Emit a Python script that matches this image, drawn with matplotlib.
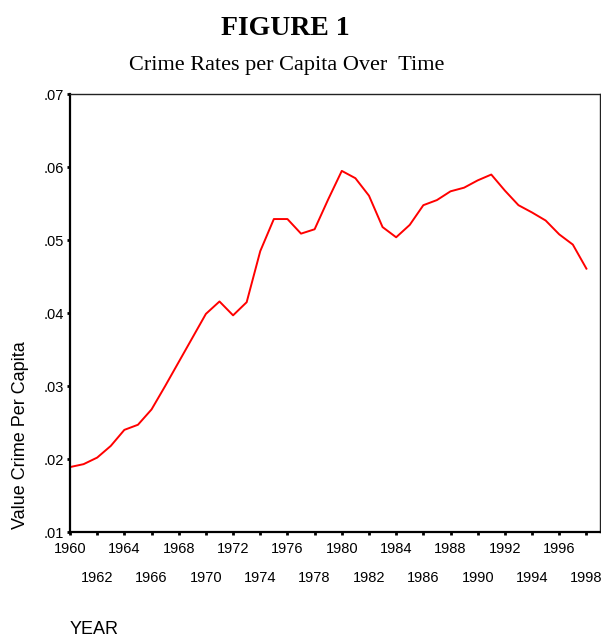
import numpy as np
from matplotlib import pyplot as plt
from matplotlib.ticker import FixedLocator, FuncFormatter

years = list(range(1960, 1999))
crime = [0.0189, 0.0193, 0.0202, 0.0218, 0.0240, 0.0247, 0.0268, 0.0300, 0.0333, 0.0366,
         0.0399, 0.0416, 0.0397, 0.0415, 0.0485, 0.0529, 0.0529, 0.0509, 0.0515, 0.0556,
         0.0595, 0.0585, 0.0561, 0.0518, 0.0504, 0.0521, 0.0548, 0.0555, 0.0567, 0.0572,
         0.0582, 0.0590, 0.0568, 0.0548, 0.0538, 0.0527, 0.0508, 0.0494, 0.0461]

yticks = [0.01, 0.02, 0.03, 0.04, 0.05, 0.06, 0.07]
row1_years = list(range(1960, 1999, 4))
row2_years = list(range(1962, 1999, 4))

plt.rcParams['font.family'] = ['Liberation Sans', 'DejaVu Sans']

fig = plt.figure(figsize=(6.01, 6.38), dpi=100)
ax = fig.add_axes([70/601, 1 - 532/638, 530/601, (532 - 94.3)/638])

ax.plot(years, crime, color='#ff0000', linewidth=1.4)

ax.set_xlim(1960, 1999)
ax.set_ylim(0.01, 0.07)

ax.set_yticks(yticks)
ax.yaxis.set_major_formatter(FuncFormatter(lambda v, p: ('%.2f' % v)[1:]))
ax.tick_params(axis='y', direction='out', length=2.5, width=2, pad=2, labelsize=10.5)

ax.xaxis.set_major_locator(FixedLocator(row1_years))
ax.xaxis.set_minor_locator(FixedLocator(row2_years))
ax.xaxis.set_major_formatter(FuncFormatter(lambda v, p: '%d' % v))
ax.xaxis.set_minor_formatter(FuncFormatter(lambda v, p: '%d' % v))
ax.tick_params(axis='x', which='major', direction='out', length=2.5, width=2, pad=5, labelsize=10.5)
ax.tick_params(axis='x', which='minor', direction='out', length=2.5, width=2, pad=25.5, labelsize=10.5)

for s in ['left', 'bottom']:
    ax.spines[s].set_linewidth(1.6)
    ax.spines[s].set_color('black')
for s in ['top', 'right']:
    ax.spines[s].set_linewidth(1.0)
    ax.spines[s].set_color('#222222')

fig.text(70/601, 1 - 630/638, 'YEAR', fontsize=13, ha='left', va='center')
fig.text(21/601, 1 - 435/638, 'Value Crime Per Capita', fontsize=13,
         rotation=90, ha='center', va='center')

fig.text(285/601, 1 - 35/638, 'FIGURE 1', family='Liberation Serif', fontweight='bold',
         fontsize=20, ha='center', va='baseline')
fig.text(287/601, 1 - 70/638, 'Crime Rates per Capita Over  Time', family='Liberation Serif',
         fontsize=16, ha='center', va='baseline')

fig.savefig('out.png', dpi=100)
